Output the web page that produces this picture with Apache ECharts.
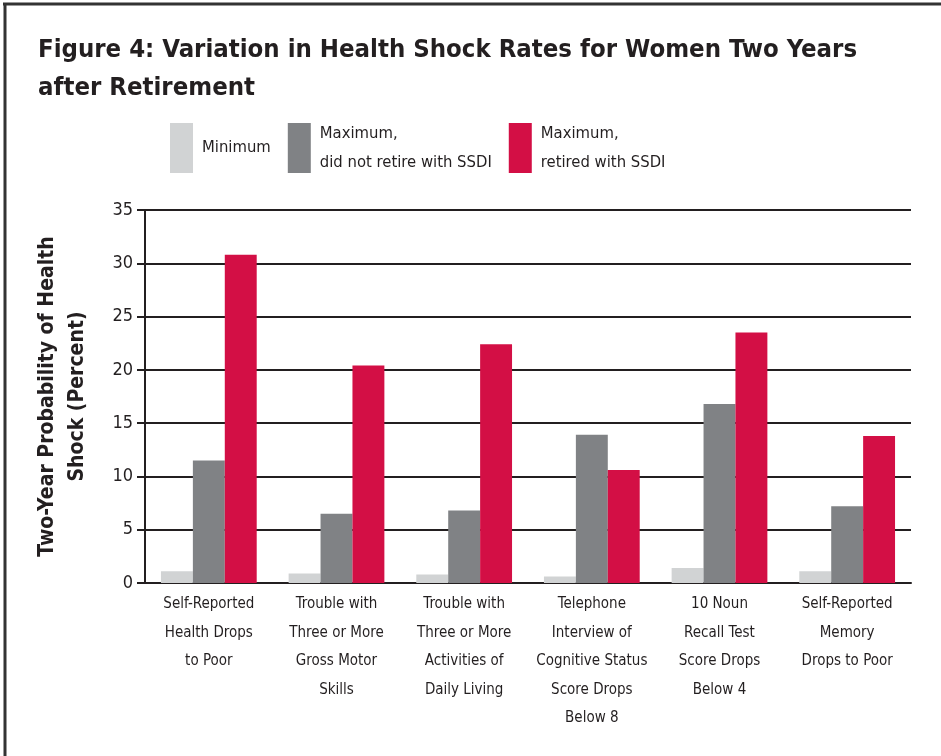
<!DOCTYPE html>
<html>
<head>
<meta charset="utf-8">
<script src="https://cdn.jsdelivr.net/npm/echarts@6/dist/echarts.min.js"></script>
<style>
html,body{margin:0;padding:0;background:#fff;}
#chart{width:941px;height:756px;}
</style>
</head>
<body>
<div id="chart"></div>
<script>
var titleText = 'Figure 4: Variation in Health Shock Rates for Women Two Years\nafter Retirement';
var yAxisName = 'Two-Year Probability of Health\nShock (Percent)';
var categories = [
  'Self-Reported\nHealth Drops\nto Poor',
  'Trouble with\nThree or More\nGross Motor\nSkills',
  'Trouble with\nThree or More\nActivities of\nDaily Living',
  'Telephone\nInterview of\nCognitive Status\nScore Drops\nBelow 8',
  '10 Noun\nRecall Test\nScore Drops\nBelow 4',
  'Self-Reported\nMemory\nDrops to Poor'
];
var seriesNames = ['Minimum', 'Maximum,\ndid not retire with SSDI', 'Maximum,\nretired with SSDI'];
var minimumValues = [1.1, 0.9, 0.8, 0.6, 1.4, 1.1];
var maxNoSSDIValues = [11.5, 6.5, 6.8, 13.9, 16.8, 7.2];
var maxSSDIValues = [30.8, 20.4, 22.4, 10.6, 23.5, 13.8];
var yTicks = [0, 5, 10, 15, 20, 25, 30, 35];

var FONT = '"Liberation Sans Narrow", "DejaVu Sans Condensed", sans-serif';
var TXT = '#231f20';
var colors = ['#d1d3d4', '#808285', '#d30f45'];

var chart = echarts.init(document.getElementById('chart'), null, {renderer: 'canvas'});
var option = {
  animation: false,
  backgroundColor: '#ffffff',
  title: {
    text: titleText,
    left: 33, top: 26,
    textStyle: {fontFamily: FONT, fontWeight: 'bold', fontSize: 25.5, color: TXT, lineHeight: 38}
  },
  legend: {
    left: 165, top: 114,
    itemWidth: 23, itemHeight: 50,
    itemGap: 17,
    icon: 'rect',
    selectedMode: false,
    textStyle: {fontFamily: FONT, fontSize: 16.5, color: TXT, lineHeight: 29, padding: [0, 0, 0, 4]},
    data: seriesNames
  },
  grid: {left: 145, right: 30, top: 210, bottom: 173, containLabel: false},
  xAxis: {
    type: 'category',
    data: categories,
    axisLine: {lineStyle: {color: TXT, width: 2}},
    axisTick: {show: false},
    axisLabel: {fontFamily: FONT, fontSize: 15, color: TXT, lineHeight: 28.5, margin: 7, interval: 0}
  },
  yAxis: {
    type: 'value',
    min: 0, max: 35, interval: 5,
    name: yAxisName,
    nameLocation: 'middle',
    nameGap: 52,
    nameRotate: 90,
    nameTextStyle: {fontFamily: FONT, fontWeight: 'bold', fontSize: 21, color: TXT, lineHeight: 30},
    axisLine: {show: true, lineStyle: {color: TXT, width: 2}},
    axisTick: {show: true, inside: false, length: 8, lineStyle: {color: TXT, width: 2}},
    axisLabel: {fontFamily: FONT, fontSize: 18, color: TXT, margin: 12,
      formatter: function(v){ return yTicks.indexOf(v) >= 0 ? String(v) : ''; }},
    splitLine: {show: true, lineStyle: {color: TXT, width: 2}}
  },
  series: [
    {name: seriesNames[0], type: 'bar', data: minimumValues, itemStyle: {color: colors[0]}, barGap: '0%', barCategoryGap: '25%'},
    {name: seriesNames[1], type: 'bar', data: maxNoSSDIValues, itemStyle: {color: colors[1]}, barGap: '0%', barCategoryGap: '25%'},
    {name: seriesNames[2], type: 'bar', data: maxSSDIValues, itemStyle: {color: colors[2]}, barGap: '0%', barCategoryGap: '25%'}
  ],
  graphic: [
    {type: 'line', shape: {x1: 3, y1: 4, x2: 941, y2: 4}, style: {stroke: '#333333', lineWidth: 3}},
    {type: 'line', shape: {x1: 5, y1: 3, x2: 5, y2: 756}, style: {stroke: '#333333', lineWidth: 3}}
  ]
};
chart.setOption(option);
</script>
</body>
</html>
